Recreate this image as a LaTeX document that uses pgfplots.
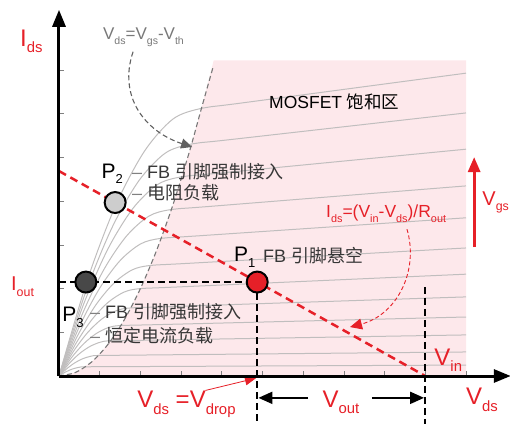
\documentclass[border=0pt]{standalone}
\usepackage{pgfplots}
\pgfplotsset{compat=1.18}
\usepackage{graphicx}
\usetikzlibrary{arrows.meta}
\usepackage{fontspec}
\setmainfont{Liberation Sans}
\newfontfamily\cjk{Noto Sans CJK SC}
\definecolor{myred}{RGB}{230,32,40}
\definecolor{pinkbg}{RGB}{253,232,235}
\definecolor{curvegray}{RGB}{192,190,190}
\definecolor{txtgray}{RGB}{55,55,55}
\definecolor{dashgray}{RGB}{120,120,120}
\newcommand\sub[1]{\raisebox{-0.28em}{\scalebox{0.62}{#1}}}
\newcommand\fs[1]{\fontsize{#1}{#1}\selectfont}
\begin{document}
\begin{tikzpicture}
\useasboundingbox (-59pt,-47pt) rectangle (451pt,376pt);
\begin{axis}[
  anchor=origin, at={(0pt,0pt)},
  x=40.7pt, y=43.7pt,
  xmin=0, xmax=11.1, ymin=0, ymax=8.38,
  axis lines=left,
  axis line style={line width=3pt, -{Triangle[length=17pt,width=13pt]}},
  xtick={1,...,10}, ytick={1,...,7},
  xticklabels={}, yticklabels={},
  tick align=inside,
  major tick length=5pt,
  tick style={line width=0.8pt, gray},
  clip=false,
  axis on top,
]
% saturation region
\addplot[fill=pinkbg, draw=none] coordinates {(0,0) (0.4,0.08) (0.8,0.32) (1.2,0.72) (1.6,1.28) (2.0,2.0) (2.4,2.88) (2.8,3.92) (3.2,5.12) (3.5,6.125) (3.8,7.22) (10,7.22) (10,0) (0,0)};
% output characteristic curves
\pgfplotsset{every axis plot/.append style={}}
\addplot[curvegray, line width=1pt, smooth] coordinates {(0,0) (0.7,2.205) (1.4,3.92) (2.1,5.145) (2.8,5.88) (3.5,6.125) (4.5,6.249) (10,6.93)};
\addplot[curvegray, line width=1pt, smooth] coordinates {(0,0) (0.652,1.912) (1.304,3.398) (1.956,4.46) (2.608,5.098) (3.26,5.31) (4.26,5.415) (10,6.02)};
\addplot[curvegray, line width=1pt, smooth] coordinates {(0,0) (0.604,1.642) (1.208,2.918) (1.812,3.83) (2.416,4.378) (3.02,4.56) (4.02,4.65) (10,5.19)};
\addplot[curvegray, line width=1pt, smooth] coordinates {(0,0) (0.552,1.372) (1.104,2.438) (1.656,3.2) (2.208,3.658) (2.76,3.81) (3.76,3.885) (10,4.35)};
\addplot[curvegray, line width=1pt, smooth] coordinates {(0,0) (0.502,1.134) (1.004,2.016) (1.506,2.646) (2.008,3.024) (2.51,3.15) (3.51,3.213) (10,3.62)};
\addplot[curvegray, line width=1pt, smooth] coordinates {(0,0) (0.45,0.911) (0.9,1.619) (1.35,2.125) (1.8,2.429) (2.25,2.53) (3.25,2.582) (10,2.93)};
\addplot[curvegray, line width=1pt, smooth] coordinates {(0,0) (0.4,0.72) (0.8,1.28) (1.2,1.68) (1.6,1.92) (2.0,2.0) (3.0,2.041) (10,2.33)};
\addplot[curvegray, line width=1pt, smooth] coordinates {(0,0) (0.353,0.561) (0.706,0.997) (1.059,1.309) (1.412,1.496) (1.765,1.558) (2.765,1.589) (10,1.81)};
\addplot[curvegray, line width=1pt, smooth] coordinates {(0,0) (0.304,0.416) (0.608,0.739) (0.912,0.97) (1.216,1.109) (1.52,1.155) (2.52,1.178) (10,1.35)};
\addplot[curvegray, line width=1pt, smooth] coordinates {(0,0) (0.254,0.29) (0.508,0.516) (0.762,0.677) (1.016,0.774) (1.27,0.806) (2.27,0.821) (10,0.94)};
\addplot[curvegray, line width=1pt, smooth] coordinates {(0,0) (0.194,0.169) (0.388,0.301) (0.582,0.395) (0.776,0.451) (0.97,0.47) (1.97,0.479) (10,0.55)};
\addplot[curvegray, line width=1pt, smooth] coordinates {(0,0) (0.13,0.076) (0.26,0.135) (0.39,0.177) (0.52,0.203) (0.65,0.211) (1.65,0.215) (10,0.25)};
% Vds = Vgs - Vth boundary
\addplot[dashgray, line width=1.1pt, dash pattern=on 5pt off 3pt, smooth] coordinates {(0,0) (0.4,0.08) (0.8,0.32) (1.2,0.72) (1.6,1.28) (2.0,2.0) (2.4,2.88) (2.8,3.92) (3.2,5.12) (3.5,6.125) (3.78,7.05)};
% load line
\addplot[myred, line width=2.5pt, dash pattern=on 8pt off 5pt] coordinates {(0,4.69) (9,0)};
% black dashed guides
\addplot[black, line width=2.2pt, dash pattern=on 7pt off 4pt] coordinates {(0,2.15) (4.87,2.15)};
\addplot[black, line width=2.2pt, dash pattern=on 7pt off 4pt] coordinates {(4.87,2.15) (4.87,-1.1)};
\addplot[black, line width=2.2pt, dash pattern=on 7pt off 4pt] coordinates {(9,2.04) (9,-1.1)};
% operating points
\addplot[only marks, mark=*, mark size=10.5pt, mark options={fill=myred, draw=black, line width=2pt}] coordinates {(4.87,2.15)};
\addplot[only marks, mark=*, mark size=10.5pt, mark options={fill={rgb,255:red,205;green,205;blue,205}, draw=black, line width=2pt}] coordinates {(1.38,3.97)};
\addplot[only marks, mark=*, mark size=10.5pt, mark options={fill={rgb,255:red,72;green,72;blue,72}, draw=black, line width=2pt}] coordinates {(0.66,2.15)};
% annotation arrows
\draw[dashgray!80!black, line width=1.1pt, dash pattern=on 5pt off 3pt, -{Triangle[length=11pt,width=10pt]}] (1.82,7.42) .. controls (1.45,6.4) and (2.1,5.6) .. (3.27,5.24);
\draw[myred, line width=0.9pt, dash pattern=on 4pt off 2.5pt, -{Triangle[length=12pt,width=11pt]}] (8.55,3.36) .. controls (8.85,2.4) and (8.3,1.4) .. (7.15,1.12);
\draw[myred, line width=0.8pt, -{Triangle[length=11pt,width=9pt]}] (3.6,-0.33) -- (4.84,-0.05);
\draw[myred, line width=3pt, -{Triangle[length=15pt,width=12pt]}] (10.2,2.95) -- (10.2,5.01);
\draw[black, line width=2pt, -{Triangle[length=14pt,width=12pt]}] (6.12,-0.5) -- (4.9,-0.5);
\draw[black, line width=2pt, -{Triangle[length=14pt,width=12pt]}] (7.69,-0.5) -- (8.97,-0.5);
% labels
\node[anchor=base west, inner sep=0, text=myred, font=\fs{24}] at (-0.96,7.55) {I\sub{ds}};
\node[anchor=base west, inner sep=0, text=dashgray, font=\fs{17}] at (1.08,7.69) {V\sub{ds}=V\sub{gs}-V\sub{th}};
\node[anchor=base west, inner sep=0, font=\fs{17.5}] at (5.16,6.13) {MOSFET {\cjk 饱和区}};
\node[anchor=base west, inner sep=0, font=\fs{21}] at (1.04,4.53) {P\sub{2}};
\node[anchor=west, inner sep=0, text=txtgray, font=\fs{18}] at (1.79,4.67) {{\color{gray}–} FB {\cjk 引脚强制接入}};
\node[anchor=west, inner sep=0, text=txtgray, font=\fs{18}] at (1.79,4.19) {{\color{gray}–} {\cjk 电阻负载}};
\node[anchor=base west, inner sep=0, font=\fs{21}] at (4.30,2.61) {P\sub{1}};
\node[anchor=west, inner sep=0, text=txtgray, font=\fs{18}] at (5.01,2.75) {FB {\cjk 引脚悬空}};
\node[anchor=base west, inner sep=0, font=\fs{21}] at (0.08,1.24) {P\sub{3}};
\node[anchor=west, inner sep=0, text=txtgray, font=\fs{18}] at (0.76,1.46) {{\color{gray}–} FB {\cjk 引脚强制接入}};
\node[anchor=west, inner sep=0, text=txtgray, font=\fs{18}] at (0.76,0.92) {{\color{gray}–} {\cjk 恒定电流负载}};
\node[anchor=base west, inner sep=0, text=myred, font=\fs{17.5}] at (6.56,3.62) {I\sub{ds}=(V\sub{in}-V\sub{ds})/R\sub{out}};
\node[anchor=base west, inner sep=0, text=myred, font=\fs{20}] at (10.40,3.91) {V\sub{gs}};
\node[anchor=base west, inner sep=0, text=myred, font=\fs{20}] at (-1.18,1.95) {I\sub{out}};
\node[anchor=base west, inner sep=0, text=myred, font=\fs{24}] at (1.92,-0.73) {V\sub{ds} =V\sub{drop}};
\node[anchor=base west, inner sep=0, text=myred, font=\fs{24}] at (6.47,-0.71) {V\sub{out}};
\node[anchor=base west, inner sep=0, text=myred, font=\fs{24}] at (9.22,0.25) {V\sub{in}};
\node[anchor=base west, inner sep=0, text=myred, font=\fs{24}] at (10.0,-0.66) {V\sub{ds}};
\end{axis}
\end{tikzpicture}
\end{document}
